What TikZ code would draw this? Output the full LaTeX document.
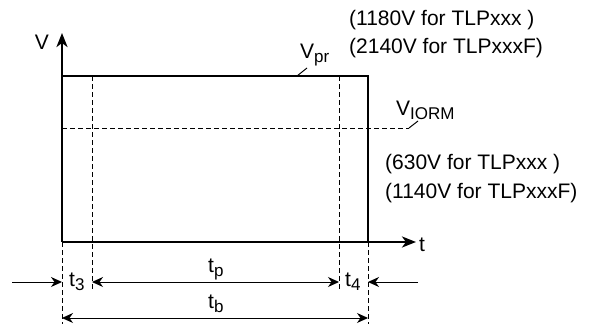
\documentclass[tikz,border=0pt]{standalone}
\usepackage{fontspec}
\setmainfont{Liberation Sans}
\usetikzlibrary{arrows.meta}
\newcommand{\lowsub}[1]{\raisebox{-4.5pt}{\fontsize{17}{18}\selectfont #1}}
\tikzset{
  lbl/.style={inner sep=0pt, font=\fontsize{21}{24}\selectfont},
  thickline/.style={line width=2.4pt},
  dim/.style={line width=1pt},
  dashline/.style={line width=1pt, dash pattern=on 5pt off 3pt},
  bigtip/.style={-{Stealth[length=14pt,width=11pt,inset=4pt]}},
  tipR/.style={-{Stealth[length=11pt,width=10pt,inset=3.5pt]}},
  tipB/.style={{Stealth[length=11pt,width=10pt,inset=3.5pt]}-{Stealth[length=11pt,width=10pt,inset=3.5pt]}}
}
\begin{document}
\begin{tikzpicture}[x=1pt,y=-1pt]
\useasboundingbox (0,0) rectangle (590,324);
% coordinates
\coordinate (O) at (62,242);
\coordinate (Ytop) at (62,33);
\coordinate (Xend) at (416,242);
\coordinate (TL) at (62,76);
\coordinate (TR) at (368,76);
\coordinate (BR) at (368,242);
\coordinate (D1t) at (92,76);
\coordinate (D1b) at (92,289);
\coordinate (D2t) at (339,76);
\coordinate (D2b) at (339,289);
\coordinate (D0b) at (62,324);
\coordinate (D3b) at (368,324);
\coordinate (H1) at (62,128);
\coordinate (H2) at (409,128);
\coordinate (L1a) at (409,128);
\coordinate (L1b) at (418,121);
\coordinate (L2a) at (297,76);
\coordinate (L2b) at (307,68);
\coordinate (A1s) at (12,282);
\coordinate (A1e) at (62,282);
\coordinate (A2s) at (92,282);
\coordinate (A2e) at (339,282);
\coordinate (A3s) at (418,282);
\coordinate (A3e) at (368,282);
\coordinate (B1) at (62,318);
\coordinate (B2) at (368,318);
% dashed lines
\draw[dashline] (D1t) -- (D1b);
\draw[dashline] (D2t) -- (D2b);
\draw[dashline] (O) -- (D0b);
\draw[dashline] (BR) -- (D3b);
\draw[dashline] (H1) -- (H2);
% pulse and axes
\draw[thickline, bigtip] (O) -- (Ytop);
\draw[thickline, bigtip] (O) -- (Xend);
\draw[thickline, line join=miter] (TL) -- (TR) -- (BR);
% leaders
\draw[dim] (L1a) -- (L1b);
\draw[dim] (L2a) -- (L2b);
% dimension arrows
\draw[dim, tipR] (A1s) -- (A1e);
\draw[dim, tipB] (A2s) -- (A2e);
\draw[dim, tipR] (A3s) -- (A3e);
\draw[dim, tipB] (B1) -- (B2);
% labels
\node[lbl] (V) at (42,42) {V};
\node[lbl, anchor=west] (t) at (419,245) {t};
\node[lbl, anchor=base west] (Vpr) at (300,58) {V\lowsub{pr}};
\node[lbl, anchor=base west] (VIORM) at (396,115) {V\lowsub{IORM}};
\node[lbl, anchor=west] (n1) at (349,20) {(1180V for TLPxxx )};
\node[lbl, anchor=west] (n2) at (349,48) {(2140V for TLPxxxF)};
\node[lbl, anchor=west] (n3) at (385,164) {(630V for TLPxxx )};
\node[lbl, anchor=west] (n4) at (385,193) {(1140V for TLPxxxF)};
\node[lbl, anchor=base west] (t3) at (69,286) {t\lowsub{3}};
\node[lbl, anchor=base west] (t4) at (345,286) {t\lowsub{4}};
\node[lbl, anchor=base west] (tp) at (208,272) {t\lowsub{p}};
\node[lbl, anchor=base west] (tb) at (208,308) {t\lowsub{b}};
\end{tikzpicture}
\end{document}
